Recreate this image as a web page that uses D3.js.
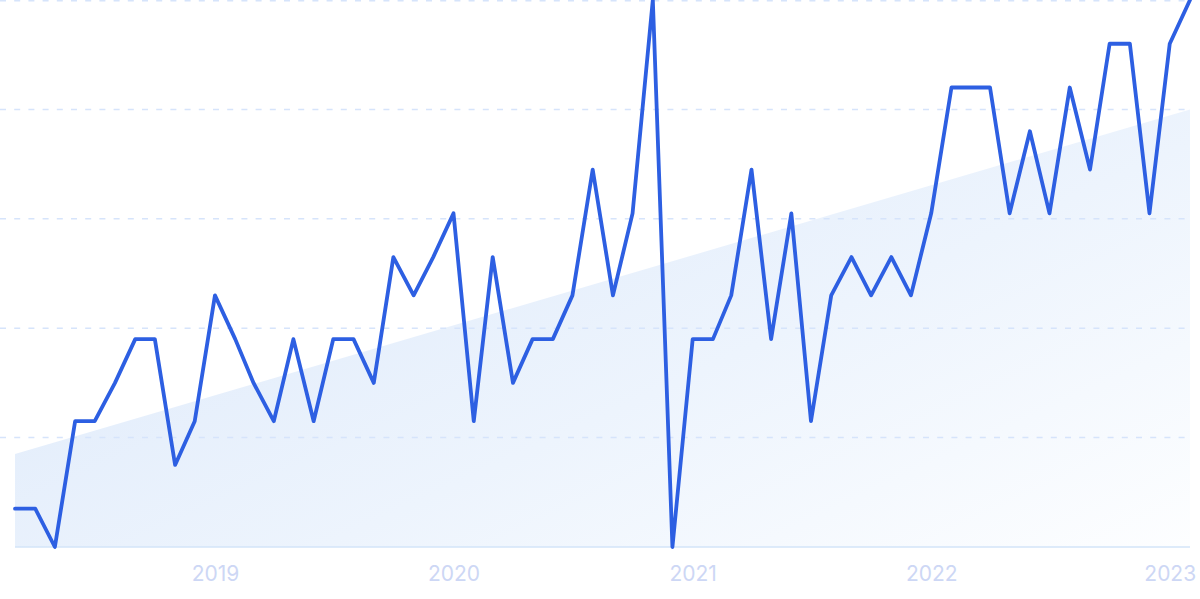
<!DOCTYPE html>
<html>
<head>
<meta charset="utf-8">
<script src="https://cdn.jsdelivr.net/npm/d3@7"></script>
<style>
  html, body { margin: 0; padding: 0; background: #ffffff; }
  svg { display: block; }
</style>
</head>
<body>
<svg id="chart" width="1200" height="599"></svg>
<script>
// ---- data ----
const startMonth = "2018-03";
const values = [7, 7, 0, 23, 23, 30, 38, 38, 15, 23,
                46, 38, 30, 23, 38, 23, 38, 38, 30, 53,
                46, 53, 61, 23, 53, 30, 38, 38, 46, 69,
                46, 61, 100, 0, 38, 38, 46, 69, 38, 61,
                23, 46, 53, 46, 53, 46, 61, 84, 84, 84,
                61, 76, 61, 84, 69, 92, 92, 61, 92, 100];
const trendValues = [17, 80];           // trend at first and last month
const yTicks = [0, 20, 40, 60, 80, 100];
const xTickLabels = ["2019", "2020", "2021", "2022", "2023"];

// ---- build ----
(function () {
const parseMonth = d3.timeParse("%Y-%m");
const start = parseMonth(startMonth);
const dates = values.map((v, i) => d3.timeMonth.offset(start, i));
const series = values.map((v, i) => ({ date: dates[i], value: v }));
const trend = [
  { date: dates[0], value: trendValues[0] },
  { date: dates[dates.length - 1], value: trendValues[1] }
];

const svg = d3.select("#chart");
const mLeft = 15, mRight = 1190, mTop = 0, mBottom = 547;

const x = d3.scaleTime().domain([dates[0], dates[dates.length - 1]]).range([mLeft, mRight]);
const y = d3.scaleLinear().domain([0, 100]).range([mBottom, mTop]);

// gradient
const defs = svg.append("defs");
const grad = defs.append("linearGradient")
  .attr("id", "trendGrad")
  .attr("x1", "0").attr("y1", "0.2")
  .attr("x2", "1").attr("y2", "1");
grad.append("stop").attr("offset", "0").attr("stop-color", "#dde9fa");
grad.append("stop").attr("offset", "0.55").attr("stop-color", "#edf4fd");
grad.append("stop").attr("offset", "1").attr("stop-color", "#fdfeff");

// trend area
const area = d3.area()
  .x(d => x(d.date))
  .y0(y(0))
  .y1(d => y(d.value));
svg.append("path")
  .datum(trend)
  .attr("d", area)
  .attr("fill", "url(#trendGrad)");

// gridlines
svg.append("g")
  .selectAll("line")
  .data(yTicks.filter(t => t > 0))
  .join("line")
  .attr("x1", 0)
  .attr("x2", mRight)
  .attr("y1", d => Math.max(y(d), 0.75))
  .attr("y2", d => Math.max(y(d), 0.75))
  .attr("stroke", "#d6e4fb")
  .attr("stroke-width", 1.5)
  .attr("stroke-dasharray", "6,8.2");

// baseline
svg.append("line")
  .attr("x1", mLeft).attr("x2", mRight)
  .attr("y1", y(0)).attr("y2", y(0))
  .attr("stroke", "#d3e4f9")
  .attr("stroke-width", 1.5);

// x axis labels
const tickDates = xTickLabels.map(s => d3.timeParse("%Y")(s));
const xAxis = d3.axisBottom(x)
  .tickValues(tickDates)
  .tickSize(0)
  .tickPadding(0)
  .tickFormat(d3.timeFormat("%Y"));
const gx = svg.append("g")
  .attr("transform", `translate(0, ${mBottom})`)
  .call(xAxis);
gx.select(".domain").remove();
gx.selectAll("text")
  .attr("dy", null)
  .attr("y", 34)
  .attr("fill", "#cdd7f5")
  .style("font-family", "Inter, 'Noto Sans', sans-serif")
  .style("font-size", "21px");

// line
const line = d3.line()
  .x(d => x(d.date))
  .y(d => y(d.value));
svg.append("path")
  .datum(series)
  .attr("d", line)
  .attr("fill", "none")
  .attr("stroke", "#2d5fe2")
  .attr("stroke-width", 3.8)
  .attr("stroke-linejoin", "round")
  .attr("stroke-linecap", "round");
})();
</script>
</body>
</html>
